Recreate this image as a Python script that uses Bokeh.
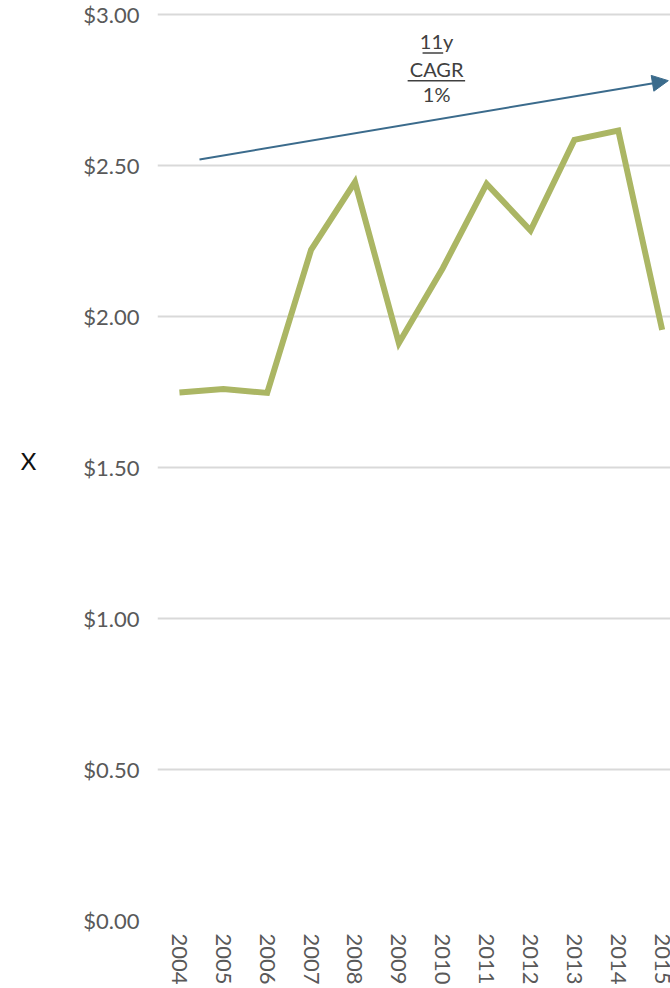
from bokeh.plotting import figure
from bokeh.models import (Range1d, FixedTicker, NumeralTickFormatter, Arrow, NormalHead)
from bokeh.core.properties import value
from bokeh.embed import file_html
from bokeh.resources import INLINE
import math

years = [2004, 2005, 2006, 2007, 2008, 2009, 2010, 2011, 2012, 2013, 2014, 2015]
prices = [1.748, 1.760, 1.747, 2.221, 2.445, 1.912, 2.160, 2.439, 2.285, 2.585, 2.616, 1.956]
y_ticks = [0.0, 0.5, 1.0, 1.5, 2.0, 2.5, 3.0]
y_label = "X"

# CAGR annotation
cagr_lines = ["11y", "CAGR", "1%"]
cagr_text_x = 2009.86
cagr_text_y = [2.911, 2.820, 2.737]
cagr_ul_x0 = [2009.54, 2009.20]
cagr_ul_x1 = [2010.01, 2010.51]
cagr_ul_y = [2.8725, 2.781]
trend_start = (2004.457, 2.520)
trend_end = (2015.14, 2.781)

FONT = "Lato"
GREEN = "#abb664"
BLUE = "#3b6b8c"

p = figure(width=670, height=988, output_backend="svg", toolbar_location=None,
           x_range=Range1d(2003.5, 2015.19), y_range=Range1d(0, 3.0464),
           min_border_left=157, min_border_right=0, min_border_top=0, min_border_bottom=68)
p.outline_line_color = None
p.background_fill_color = "white"
p.border_fill_color = "white"

p.xgrid.grid_line_color = None
p.ygrid.grid_line_color = "#d9d9d9"
p.ygrid.grid_line_width = 2

p.yaxis.ticker = FixedTicker(ticks=y_ticks)
p.yaxis.formatter = NumeralTickFormatter(format="$0.00")
p.xaxis.ticker = FixedTicker(ticks=years)

for ax in (p.xaxis[0], p.yaxis[0]):
    ax.axis_line_color = None
    ax.major_tick_line_color = None
    ax.minor_tick_line_color = None
    ax.major_label_text_font = FONT
    ax.major_label_text_font_size = "22px"
    ax.major_label_text_color = "#595959"

p.yaxis.major_label_standoff = 12
p.xaxis.major_label_standoff = 7
p.xaxis.major_label_orientation = -math.pi / 2

p.yaxis.axis_label = y_label
p.yaxis.axis_label_orientation = "horizontal"
p.yaxis.axis_label_text_font = FONT
p.yaxis.axis_label_text_font_style = "normal"
p.yaxis.axis_label_text_font_size = "24px"
p.yaxis.axis_label_text_color = "#111111"
p.yaxis.axis_label_standoff = 44

p.line(years, prices, line_color=GREEN, line_width=6, line_join="miter")

p.add_layout(Arrow(end=NormalHead(size=16, fill_color=BLUE, line_color=BLUE),
                   x_start=trend_start[0], y_start=trend_start[1],
                   x_end=trend_end[0], y_end=trend_end[1],
                   line_color=BLUE, line_width=2))

p.text(x=[cagr_text_x] * 3, y=cagr_text_y, text=cagr_lines,
       text_font=value(FONT), text_font_size="20px", text_color="#404040",
       text_align="center", text_baseline="middle")
p.segment(x0=cagr_ul_x0, y0=cagr_ul_y, x1=cagr_ul_x1, y1=cagr_ul_y,
          line_color="#404040", line_width=1.5)

open("out.html", "w").write(file_html(p, INLINE))
